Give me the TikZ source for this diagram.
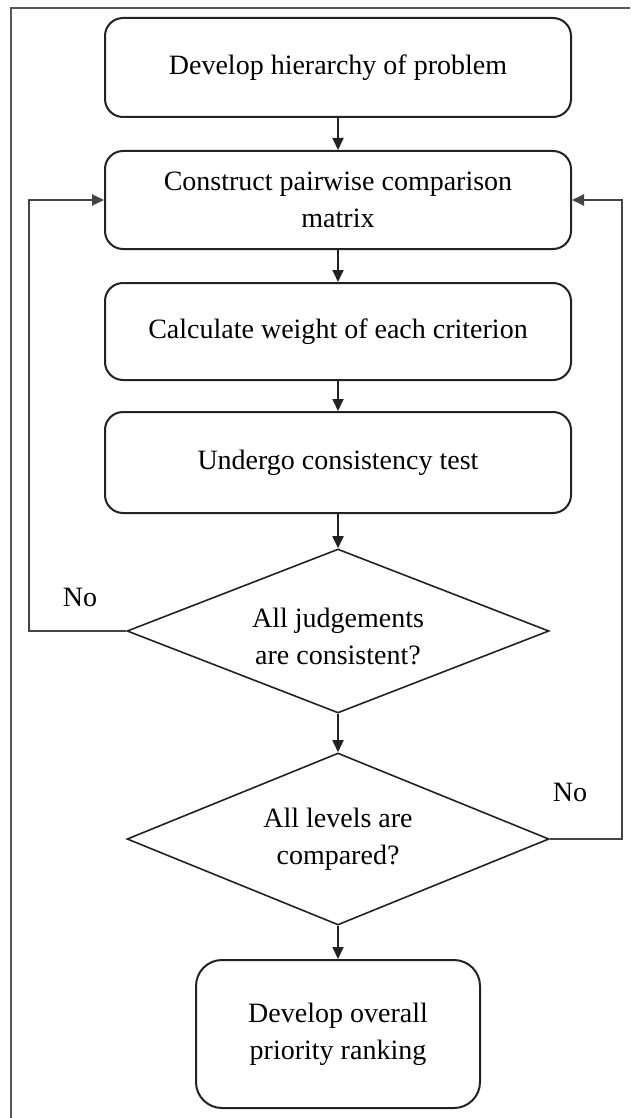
\documentclass[tikz,border=0pt]{standalone}
\usepackage{fontspec}
\setmainfont{Liberation Serif}
\usetikzlibrary{shapes.geometric,arrows.meta}
\definecolor{ink}{HTML}{222222}
\definecolor{loopink}{HTML}{444444}
\definecolor{framegray}{HTML}{555555}
\tikzset{
  txt/.style={font=\fontsize{28}{37}\selectfont, text=black},
  procbox/.style={txt, draw=ink, line width=2pt, rounded corners=18pt,
    minimum width=466pt, align=center, inner sep=0pt},
  endbox/.style={txt, draw=ink, line width=2pt, rounded corners=26pt,
    minimum width=284pt, minimum height=148pt, align=center, inner sep=0pt},
  decision/.style={txt, draw=ink, line width=1.6pt, diamond, aspect=2.5,
    minimum width=422pt, align=center, inner sep=0pt},
  arr/.style={draw=ink, line width=1.8pt, -{Triangle[length=12pt,width=11pt]}},
  loopline/.style={draw=loopink, line width=2pt, -{Triangle[length=12pt,width=11pt]}},
  framel/.style={draw=framegray, line width=1.1pt},
  lbl/.style={txt, inner sep=0pt}
}
\begin{document}
\begin{tikzpicture}[x=1pt,y=-1pt]
\useasboundingbox (0,0) rectangle (630,1118);
\draw[framel] (11,1118) -- (11,8) -- (630,8);

\node[procbox, minimum height=99pt] (b1) at (338,67.5) {Develop hierarchy of problem};
\node[procbox, minimum height=98pt] (b2) at (338,200) {Construct pairwise comparison\\matrix};
\node[procbox, minimum height=97pt] (b3) at (338,331.5) {Calculate weight of each criterion};
\node[procbox, minimum height=101pt] (b4) at (338,462.5) {Undergo consistency test};
\node[decision, minimum height=164pt] (d1) at (338,631) {\\[-6pt]All judgements\\are consistent?};
\node[decision, minimum height=172pt] (d2) at (338,839) {All levels are\\compared?};
\node[endbox] (b5) at (338,1034) {Develop overall\\priority ranking};

\draw[arr] (b1.south) -- (b2.north);
\draw[arr] (b2.south) -- (b3.north);
\draw[arr] (b3.south) -- (b4.north);
\draw[arr] (b4.south) -- (d1.north);
\draw[arr] (d1.south) -- (d2.north);
\draw[arr] (d2.south) -- (b5.north);

\coordinate (lx) at (29,0);
\coordinate (rx) at (622,0);
\draw[loopline] (d1.west) -- (d1.west -| lx) |- (b2.west);
\draw[loopline] (d2.east) -- (d2.east -| rx) |- (b2.east);

\node[lbl] (no1) at (80,597) {No};
\node[lbl] (no2) at (570,792) {No};
\end{tikzpicture}
\end{document}
